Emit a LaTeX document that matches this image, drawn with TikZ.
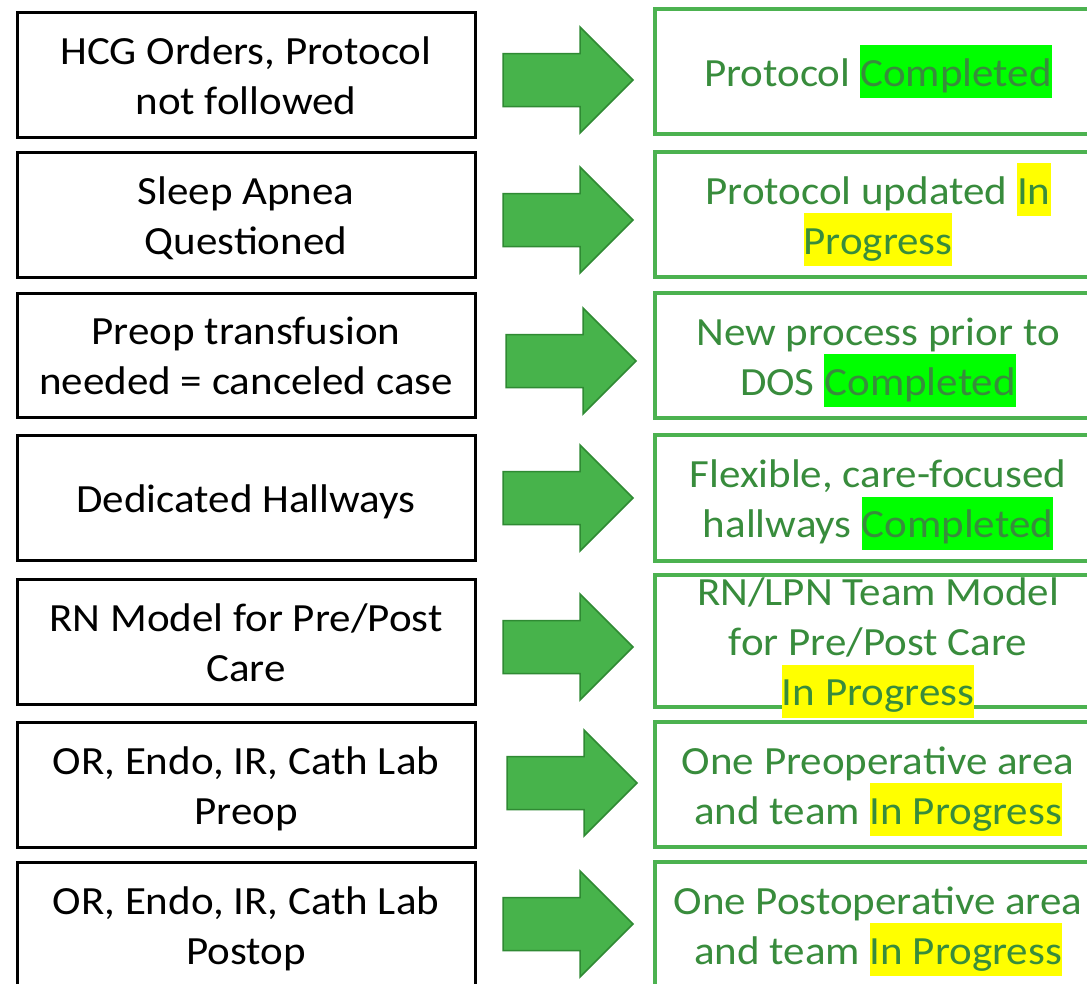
\documentclass[tikz,border=0pt]{standalone}
\usepackage{fontspec}
\setmainfont{Carlito}[FakeStretch=1.075]
\definecolor{arrfill}{RGB}{71,179,75}
\definecolor{arrdraw}{RGB}{47,138,51}
\definecolor{boxgreen}{RGB}{76,178,80}
\definecolor{txtgreen}{RGB}{56,140,60}
\definecolor{hlgreen}{RGB}{0,255,0}
\definecolor{hlyellow}{RGB}{255,255,0}
\newcommand\ls{\rule[-12pt]{0pt}{53pt}}
\newcommand\hlg[1]{{\setlength\fboxsep{0pt}\colorbox{hlgreen}{\ls #1}}}
\newcommand\hly[1]{{\setlength\fboxsep{0pt}\colorbox{hlyellow}{\ls #1}}}
\newcommand\boxfont{\fontsize{40}{50}\selectfont\setlength\lineskiplimit{-100pt}}
\newcommand\garrow[2]{%
  \draw[arrshape] (#1,#2-26.5) -- (#1+77,#2-26.5) -- (#1+77,#2-53) -- (#1+130,#2)
    -- (#1+77,#2+53) -- (#1+77,#2+26.5) -- (#1,#2+26.5) -- cycle;}
\begin{document}
\begin{tikzpicture}[x=1pt,y=-1pt,
  lbox/.style={draw=black,line width=3pt,minimum width=458pt,inner sep=0pt,fill=white},
  rbox/.style={draw=boxgreen,line width=4pt,minimum width=446pt,inner sep=0pt,fill=white},
  ltext/.style={text=black,font=\boxfont,align=center,inner sep=0pt},
  rtext/.style={text=txtgreen,font=\boxfont,align=center,inner sep=0pt},
  arrshape/.style={fill=arrfill,draw=arrdraw,line width=1.5pt,line join=miter}]
\clip (0,0) rectangle (1087,983);
\fill[white] (0,0) rectangle (1087,983);
% left boxes
\node[lbox,minimum height=125pt] (l1) at (246,74.5) {};
\node[lbox,minimum height=125pt] (l2) at (246,214.5) {};
\node[lbox,minimum height=124pt] (l3) at (246,355) {};
\node[lbox,minimum height=125pt] (l4) at (246,497.5) {};
\node[lbox,minimum height=125pt] (l5) at (246,641.5) {};
\node[lbox,minimum height=125pt] (l6) at (246,784.5) {};
\node[lbox,minimum height=125pt] (l7) at (246,924.5) {};
\node[ltext] (lt1) at (l1.center) {\ls HCG Orders, Protocol\\\ls not followed};
\node[ltext] (lt2) at (l2.center) {\ls Sleep Apnea\\\ls Questioned};
\node[ltext] (lt3) at (l3.center) {\ls Preop transfusion\\\ls needed = canceled case};
\node[ltext] (lt4) at (l4.center) {\ls Dedicated Hallways};
\node[ltext] (lt5) at (l5.center) {\ls RN Model for Pre/Post\\\ls Care};
\node[ltext] (lt6) at (l6.center) {\ls OR, Endo, IR, Cath Lab\\\ls Preop};
\node[ltext] (lt7) at (l7.center) {\ls OR, Endo, IR, Cath Lab\\\ls Postop};
% right boxes
\node[rbox,minimum height=125pt] (r1) at (878,71.5) {};
\node[rbox,minimum height=125pt] (r2) at (878,214.5) {};
\node[rbox,minimum height=125pt] (r3) at (878,355.5) {};
\node[rbox,minimum height=126pt] (r4) at (878,498) {};
\node[rbox,minimum height=132pt] (r5) at (878,641) {};
\node[rbox,minimum height=125pt] (r6) at (878,784.5) {};
\node[rbox,minimum height=125pt] (r7) at (878,924.5) {};
\node[rtext] (rt1) at (r1.center) {\ls Protocol \hlg{Completed}};
\node[rtext] (rt2) at (r2.center) {\ls Protocol updated \hly{In}\\\ls\hly{Progress}};
\node[rtext] (rt3) at (r3.center) {\ls New process prior to\\\ls DOS \hlg{Completed}};
\node[rtext] (rt4) at (r4.center) {\ls Flexible, care-focused\\\ls hallways \hlg{Completed}};
\node[rtext] (rt5) at (r5.center) {\ls RN/LPN Team Model\\\ls for Pre/Post Care\\\ls\hly{In Progress}};
\node[rtext] (rt6) at (r6.center) {\ls One Preoperative area\\\ls and team \hly{In Progress}};
\node[rtext] (rt7) at (r7.center) {\ls One Postoperative area\\\ls and team \hly{In Progress}};
% arrows
\garrow{503}{80}
\garrow{503}{220}
\garrow{506}{361}
\garrow{503}{498}
\garrow{503}{647}
\garrow{507}{783}
\garrow{503}{924}
\end{tikzpicture}
\end{document}
